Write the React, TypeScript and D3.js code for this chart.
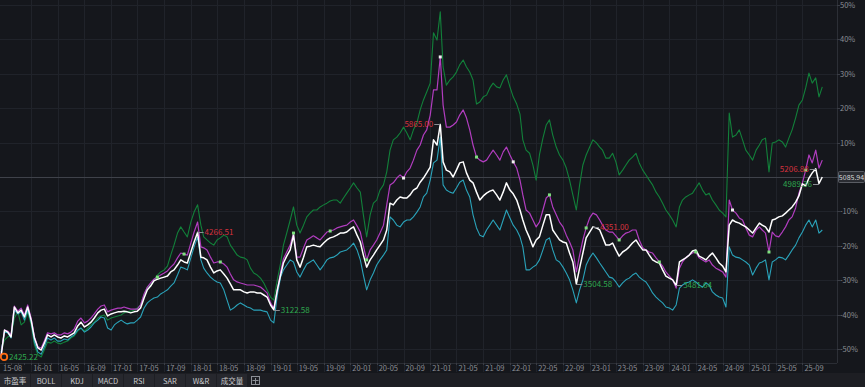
import { useEffect, useRef } from "react"
import * as d3 from "d3"

// last close of the main index, the 0% line
const BASE = 5085.94

// % change vs BASE, one value on the 1st and the 16th of each month, from 2015-08-16
const mainIdx = [
  -52.3, -44.5, -45.1, -46.5, -37.8, -39.5, -38.7, -40.7, -37.8, -41.6,
  -46.8, -49.7, -50.3, -48.3, -45.9, -46.5, -45.9, -46.5, -46.8, -46.2,
  -46.5, -45.9, -45.3, -43.3, -42.2, -43.6, -43.0, -42.2, -41.0, -39.5,
  -38.7, -38.4, -40.4, -39.8, -39.5, -39.2, -39.2, -39.0, -39.2, -39.5,
  -39.2, -39.0, -38.1, -35.2, -32.8, -31.7, -30.2, -29.7, -29.4, -29.1,
  -28.8, -27.6, -27.0, -25.6, -24.1, -24.7, -25.0, -21.8, -18.9, -16.1,
  -23.3, -23.5, -24.1, -26.2, -27.9, -27.3, -27.0, -28.2, -29.4, -31.1,
  -32.8, -32.8, -32.8, -33.4, -33.7, -33.4, -33.4, -33.7, -33.7, -34.3,
  -34.9, -37.2, -38.6, -32.8, -28.5, -25.0, -23.0, -21.2, -16.9, -24.1,
  -26.2, -23.3, -20.3, -20.1, -19.8, -20.1, -20.3, -19.2, -18.3, -17.7,
  -17.4, -16.9, -16.3, -16.3, -16.0, -15.1, -14.5, -16.9, -18.9, -22.7,
  -26.2, -24.1, -22.7, -21.2, -19.8, -18.3, -15.4, -7.6, -8.1, -6.7,
  -5.8, -6.1, -6.1, -5.2, -3.8, -3.2, -1.5, -0.3, 1.2, 2.9,
  10.8, 9.3, 15.3, 4.4, 2.0, 1.5, 0, 2.0, 4.1, 4.4,
  1.2, -0.9, -1.7, -4.4, -6.7, -5.5, -4.7, -4.1, -3.8, -5.2,
  -6.7, -4.4, -1.7, -3.8, -4.9, -6.7, -9.6, -12.5, -15.4, -17.7,
  -20.3, -18.3, -17.4, -14.0, -11.0, -11.0, -15.4, -16.9, -18.3, -18.9,
  -19.2, -22.1, -24.7, -31.1, -26.5, -22.1, -17.7, -16.0, -14.5, -14.8,
  -15.4, -17.4, -19.8, -19.8, -19.2, -21.2, -23.0, -21.8, -21.2, -20.3,
  -19.2, -18.3, -19.8, -21.2, -21.2, -22.7, -24.1, -24.7, -25.0, -27.0,
  -28.8, -29.4, -29.9, -31.5, -24.7, -24.1, -23.5, -22.7, -21.5, -21.2,
  -23.0, -23.5, -24.1, -23.0, -22.1, -23.5, -25.0, -25.9, -27.6, -14.0,
  -12.5, -13.1, -13.4, -14.0, -14.5, -15.4, -16.3, -14.8, -13.4, -14.0,
  -14.5, -16.0, -12.5, -12.2, -11.6, -11.3, -10.5, -9.6, -8.7, -7.3,
  -5.5, -2.0, -2.6, -0.3, 1.2, 2.4, -1.9, 0,
]

const cmpPurple = [
  -51.7, -44.5, -44.8, -45.9, -37.5, -39.0, -38.1, -40.1, -37.2, -41.0,
  -46.5, -49.4, -49.7, -47.7, -45.3, -45.6, -45.3, -45.9, -45.9, -45.3,
  -45.6, -45.1, -44.2, -41.9, -41.0, -42.4, -41.9, -41.0, -39.8, -38.4,
  -37.5, -37.2, -39.2, -38.7, -38.4, -38.1, -38.1, -37.8, -38.1, -38.4,
  -38.4, -38.4, -37.2, -34.0, -32.0, -30.8, -29.7, -29.1, -28.5, -27.9,
  -27.3, -26.2, -25.3, -23.5, -22.1, -22.4, -22.7, -19.2, -16.0, -13.1,
  -20.3, -20.6, -21.2, -23.3, -25.0, -24.7, -24.7, -25.3, -26.2, -28.2,
  -29.9, -30.5, -30.8, -31.1, -31.4, -31.4, -31.4, -31.7, -32.0, -32.8,
  -33.7, -36.6, -38.1, -32.8, -27.6, -23.8, -21.8, -19.8, -16.3, -23.3,
  -23.3, -20.6, -18.3, -17.7, -17.1, -17.7, -18.3, -17.1, -16.0, -15.7,
  -15.4, -14.8, -14.5, -14.2, -14.0, -13.1, -12.5, -14.2, -16.0, -20.1,
  -24.1, -21.2, -19.8, -18.3, -16.3, -14.0, -8.1, -2.3, -1.7, -0.3,
  0.6, -0.3, 1.5, 2.6, 4.9, 7.8, 9.3, 12.2, 13.7, 18.0,
  25.3, 25.3, 34.9, 20.9, 14.5, 14.5, 15.1, 16.0, 18.0, 19.5,
  17.2, 13.7, 9.3, 5.8, 4.9, 4.4, 4.9, 6.4, 7.8, 6.4,
  4.9, 7.3, 8.7, 6.4, 4.4, 2.6, -0.9, -5.2, -9.6, -10.5,
  -12.5, -14.5, -13.1, -9.6, -6.1, -5.2, -8.7, -11.0, -13.1, -14.5,
  -16.9, -18.9, -21.2, -27.6, -22.7, -18.3, -14.8, -11.9, -10.5, -11.0,
  -12.5, -14.0, -15.4, -16.0, -16.0, -17.1, -18.3, -17.1, -16.3, -16.0,
  -15.4, -15.4, -18.3, -20.6, -21.2, -21.8, -22.1, -23.5, -24.7, -25.9,
  -27.6, -28.8, -29.9, -32.3, -26.5, -24.7, -23.5, -22.7, -22.1, -21.8,
  -23.5, -24.1, -24.7, -24.1, -25.6, -26.5, -27.0, -27.6, -29.1, -6.7,
  -9.6, -10.5, -11.9, -12.5, -14.8, -16.9, -17.4, -15.4, -14.5, -15.4,
  -16.3, -21.8, -16.0, -17.1, -17.4, -16.0, -14.5, -12.5, -11.6, -9.0,
  -4.7, -1.7, 2.0, 6.4, 4.1, 7.8, 2.6, 4.9,
]

const cmpGreen = [
  -50.3, -47.4, -46.5, -45.9, -41.0, -39.2, -43.0, -42.2, -39.2, -43.0,
  -48.8, -51.7, -52.3, -50.3, -48.0, -48.3, -47.7, -48.3, -48.5, -48.0,
  -47.7, -46.8, -46.2, -44.8, -43.9, -44.8, -43.9, -43.0, -42.2, -41.0,
  -40.4, -40.1, -41.6, -41.0, -40.7, -40.4, -40.1, -39.5, -39.2, -39.0,
  -38.7, -38.1, -37.2, -34.3, -32.0, -31.4, -29.9, -28.5, -27.6, -27.0,
  -25.9, -22.7, -19.8, -16.3, -14.5, -16.0, -17.4, -13.1, -10.2, -8.1,
  -14.0, -17.4, -18.3, -19.2, -19.8, -18.3, -17.7, -16.9, -17.4, -19.8,
  -21.2, -22.7, -23.3, -23.5, -24.1, -26.5, -27.9, -28.5, -29.4, -30.8,
  -32.8, -34.9, -35.8, -29.9, -25.0, -19.8, -16.3, -12.5, -8.7, -14.0,
  -16.3, -14.0, -11.6, -10.5, -9.6, -9.6, -8.7, -8.1, -7.6, -7.0,
  -6.7, -6.7, -7.6, -6.1, -4.7, -3.2, -1.7, -3.2, -4.4, -11.0,
  -17.4, -11.0, -7.6, -6.7, -3.8, -2.3, 1.5, 7.8, 10.8, 11.6,
  12.8, 14.5, 12.8, 10.8, 13.7, 15.7, 19.5, 22.4, 24.7, 27.3,
  41.9, 39.8, 48.0, 32.0, 26.7, 28.2, 29.1, 30.5, 32.6, 34.0,
  32.0, 30.5, 28.2, 21.2, 21.8, 23.3, 23.8, 25.9, 27.3, 26.2,
  25.9, 28.2, 29.7, 26.2, 23.3, 21.2, 18.3, 10.8, 7.8, 6.9,
  3.5, -0.9, 6.4, 11.3, 15.1, 16.6, 12.2, 8.7, 6.4, 4.9,
  2.6, -0.9, -5.2, -9.6, -2.3, 3.5, 6.4, 8.7, 10.8, 9.9,
  8.7, 7.8, 5.5, 5.5, 6.9, 4.4, 0.6, 2.0, 3.5, 4.9,
  5.8, 6.9, 4.1, 2.0, 0.6, -0.9, -2.3, -4.4, -5.8, -7.6,
  -9.6, -11.0, -12.5, -14.5, -8.7, -6.7, -5.8, -5.2, -4.7, -3.2,
  -1.7, -3.8, -5.2, -4.7, -6.7, -8.1, -9.6, -10.5, -11.6, 18.6,
  11.6, 12.2, 13.7, 10.8, 7.8, 6.4, 4.9, 7.8, 9.3, 10.8,
  11.3, 1.5, 9.9, 10.2, 10.8, 10.2, 8.7, 11.3, 13.7, 17.2,
  20.9, 22.4, 25.9, 30.2, 27.3, 28.8, 23.3, 26.2,
]

const cmpCyan = [
  -50.9, -45.1, -45.3, -46.8, -38.7, -39.8, -39.2, -41.6, -38.7, -42.2,
  -48.0, -50.9, -51.5, -49.4, -46.8, -47.4, -46.8, -47.7, -47.7, -47.1,
  -47.4, -46.5, -45.9, -44.5, -43.9, -45.1, -44.5, -43.6, -42.4, -41.6,
  -40.7, -41.0, -43.9, -44.5, -43.0, -42.2, -41.6, -42.2, -42.7, -42.4,
  -42.4, -41.6, -40.7, -38.1, -36.6, -35.8, -35.2, -34.9, -34.0, -33.4,
  -32.8, -31.7, -30.8, -28.5, -26.2, -26.5, -27.0, -23.5, -20.3, -17.4,
  -24.1, -26.5, -27.9, -29.1, -29.9, -30.5, -30.8, -32.8, -35.8, -38.7,
  -38.1, -37.2, -36.6, -37.2, -37.8, -38.1, -38.7, -38.7, -38.7, -39.0,
  -39.2, -41.6, -42.4, -34.3, -29.1, -27.0, -25.6, -24.1, -24.7, -27.6,
  -29.1, -27.0, -25.3, -24.7, -24.1, -25.6, -27.0, -25.6, -24.1, -23.5,
  -23.3, -22.7, -21.8, -21.5, -21.2, -20.3, -19.2, -21.2, -24.1, -28.5,
  -32.8, -29.9, -27.9, -25.6, -24.1, -22.7, -21.2, -11.6, -12.5, -14.0,
  -14.5, -13.1, -12.5, -12.5, -11.6, -10.2, -8.7, -5.8, -4.7, -0.9,
  4.1, 4.9, 11.6, -2.3, -3.8, -4.4, -4.7, -3.2, -1.5, -0.9,
  -3.8, -5.8, -11.0, -14.8, -16.9, -17.4, -15.4, -14.0, -12.5, -14.0,
  -15.4, -12.5, -9.6, -11.9, -14.0, -15.4, -17.4, -20.3, -27.0, -27.0,
  -26.2, -25.6, -24.1, -21.2, -18.3, -17.7, -21.2, -24.1, -24.7, -26.2,
  -27.9, -29.9, -32.8, -36.6, -32.8, -29.9, -25.6, -23.5, -22.1, -23.5,
  -25.0, -26.2, -27.6, -29.1, -29.4, -30.5, -32.0, -30.8, -29.9, -29.4,
  -28.5, -27.9, -29.1, -29.9, -30.5, -32.0, -33.7, -34.9, -35.8, -36.6,
  -37.8, -38.1, -38.7, -37.2, -32.3, -31.4, -30.8, -30.5, -29.9, -30.5,
  -31.4, -32.0, -30.8, -31.4, -33.4, -34.3, -34.9, -35.2, -37.8, -20.3,
  -22.7, -23.3, -23.5, -24.1, -24.7, -25.6, -28.5, -26.5, -25.0, -24.7,
  -24.1, -29.9, -24.7, -24.1, -23.3, -23.5, -24.1, -22.7, -21.2, -19.8,
  -17.7, -16.0, -14.0, -12.5, -14.5, -12.5, -16.3, -15.4,
]

const yTicks = [50, 40, 30, 20, 10, 0, -10, -20, -30, -40, -50]
const tabs = ["市盈率", "BOLL", "KDJ", "MACD", "RSI", "SAR", "W&R", "成交量"]

// labelled highs / lows of the main index (index into the date grid)
const extremes = [
  { i: 0, text: "2425.22", hi: false, side: "right" },
  { i: 59, text: "4266.51", hi: true, side: "right" },
  { i: 82, text: "3122.58", hi: false, side: "right" },
  { i: 132, text: "5865.00", hi: true, side: "left" },
  { i: 173, text: "3504.58", hi: false, side: "right" },
  { i: 178, text: "4351.00", hi: true, side: "right" },
  { i: 203, text: "3481.64", hi: false, side: "right" },
  { i: 245, text: "5206.88", hi: true, side: "left" },
  { i: 246, text: "4989.36", hi: false, side: "left" },
]

// small event squares sitting on the purple line
const markerIdx = [47, 55, 66, 88, 99, 110, 121, 132, 143, 154, 165, 176, 186, 198, 209, 220, 231, 242]
const whiteMarkers = [121, 132, 154, 220]

export default function App() {
  const svgRef = useRef<SVGSVGElement>(null)
  const W = 865, H = 387

  useEffect(() => {
    const svg = d3.select(svgRef.current)
    svg.selectAll("*").remove()

    const font = "'Noto Sans CJK SC', 'Noto Sans', sans-serif"
    const plotR = 837, plotB = 363

    const dates = mainIdx.map((_, i) => new Date(2015, 7 + Math.ceil(i / 2), i % 2 === 0 ? 16 : 1))

    const x = d3.scaleTime()
      .domain([new Date(2015, 7, 1), new Date(2025, 8, 1)])
      .range([-2.25, 802.4])
    const y = d3.scaleLinear().domain([-50, 50]).range([349, 5])

    svg.append("rect").attr("width", W).attr("height", H).attr("fill", "#15171c")
    svg.append("rect").attr("y", 373).attr("width", W).attr("height", H - 373).attr("fill", "#1d1e23")

    // grid
    const xTicks = [dates[0], ...d3.timeMonth.every(4)!.range(new Date(2016, 0, 1), new Date(2025, 9, 1))]
    svg.append("g").selectAll("line").data(yTicks).join("line")
      .attr("x1", 0).attr("x2", plotR)
      .attr("y1", d => Math.round(y(d)) + 0.5).attr("y2", d => Math.round(y(d)) + 0.5)
      .attr("stroke", "#20232a")
    svg.append("g").selectAll("line").data(xTicks.slice(1)).join("line")
      .attr("x1", d => Math.round(x(d)) + 0.5).attr("x2", d => Math.round(x(d)) + 0.5)
      .attr("y1", 0).attr("y2", 372)
      .attr("stroke", "#20232a")

    // zero line
    svg.append("line")
      .attr("x1", 0).attr("x2", plotR + 4)
      .attr("y1", Math.round(y(0)) + 0.5).attr("y2", Math.round(y(0)) + 0.5)
      .attr("stroke", "#3f424a")

    // axes frame
    svg.append("line").attr("x1", plotR + 0.5).attr("x2", plotR + 0.5).attr("y1", 0).attr("y2", plotB)
      .attr("stroke", "#2c2f36")
    svg.append("line").attr("x1", 0).attr("x2", plotR).attr("y1", plotB + 0.5).attr("y2", plotB + 0.5)
      .attr("stroke", "#2a2d34")
    svg.append("g").selectAll("line").data(d3.timeMonth.range(new Date(2015, 8, 1), new Date(2025, 11, 1))).join("line")
      .attr("x1", d => Math.round(x(d)) + 0.5).attr("x2", d => Math.round(x(d)) + 0.5)
      .attr("y1", plotB).attr("y2", plotB + 2)
      .attr("stroke", "#3a3d45")

    svg.append("defs").append("clipPath").attr("id", "plotclip")
      .append("rect").attr("width", plotR).attr("height", plotB)

    const plot = svg.append("g").attr("clip-path", "url(#plotclip)")

    const series = [
      { values: cmpGreen, color: "#12803a", width: 1.1 },
      { values: cmpCyan, color: "#2aa3ba", width: 1.1 },
      { values: cmpPurple, color: "#b13dbf", width: 1.2 },
      { values: mainIdx, color: "#ffffff", width: 1.5 },
    ]
    const line = d3.line<number>()
      .x((_, i) => x(dates[i]))
      .y(d => y(d))
    plot.selectAll("path.series").data(series).join("path")
      .attr("class", "series")
      .attr("d", d => line(d.values))
      .attr("fill", "none")
      .attr("stroke", d => d.color)
      .attr("stroke-width", d => d.width)
      .attr("stroke-linejoin", "round")

    plot.selectAll("rect.mk").data(markerIdx).join("rect")
      .attr("class", "mk")
      .attr("x", i => x(dates[i]) - 1.5).attr("y", i => y(cmpPurple[i]) - 1.5)
      .attr("width", 3).attr("height", 3)
      .attr("fill", i => whiteMarkers.includes(i) ? "#f2f2f2" : "#7ee07e")

    // high / low labels
    const ex = plot.append("g")
    extremes.forEach(e => {
      const px = x(dates[e.i]), py = y(mainIdx[e.i])
      const dir = e.side === "right" ? 1 : -1
      if (e.i === 0) {
        ex.append("circle").attr("cx", px + 3).attr("cy", py).attr("r", 3.2)
          .attr("fill", "#15171c").attr("stroke", "#ff6a13").attr("stroke-width", 1.8)
        ex.append("text").attr("x", px + 8).attr("y", py + 3)
          .attr("fill", "#2fa84f").attr("font-size", 8).attr("font-family", font).text(e.text)
        return
      }
      ex.append("line").attr("x1", px).attr("x2", px + dir * 6)
        .attr("y1", Math.round(py) + 0.5).attr("y2", Math.round(py) + 0.5)
        .attr("stroke", "#8a8d93")
      ex.append("text").attr("x", px + dir * 7).attr("y", py + 3)
        .attr("text-anchor", dir > 0 ? "start" : "end")
        .attr("fill", e.hi ? "#d6323e" : "#2fa84f")
        .attr("font-size", 8).attr("font-family", font)
        .text(e.text)
    })

    // right axis
    svg.append("g").selectAll("text").data(yTicks.filter(d => d !== 0)).join("text")
      .attr("x", 840).attr("y", d => y(d) + 3)
      .attr("fill", "#8b8e95").attr("font-size", 7.5).attr("font-family", font)
      .text(d => `${d}%`)
    svg.append("g").selectAll("line").data(yTicks).join("line")
      .attr("x1", plotR).attr("x2", plotR + 3)
      .attr("y1", d => Math.round(y(d)) + 0.5).attr("y2", d => Math.round(y(d)) + 0.5)
      .attr("stroke", "#3a3d45")

    // last value box
    svg.append("rect").attr("x", 838.5).attr("y", y(0) - 5.5).attr("width", 26).attr("height", 11)
      .attr("fill", "#2a2c32").attr("stroke", "#5a5d64").attr("rx", 1)
    svg.append("text").attr("x", 851.5).attr("y", y(0) + 3)
      .attr("text-anchor", "middle").attr("fill", "#d8d8d8")
      .attr("font-size", 7).attr("font-family", font)
      .text(BASE.toFixed(2))

    // bottom axis labels
    const fmt = d3.timeFormat("%y-%m")
    svg.append("g").selectAll("text").data(xTicks).join("text")
      .attr("x", d => x(d) + 2).attr("y", 371)
      .attr("fill", "#8b8e95").attr("font-size", 7.5).attr("font-family", font)
      .text(d => fmt(d))

    // indicator tabs
    const tabW = 30
    const tg = svg.append("g")
    tabs.forEach((t, i) => {
      tg.append("rect").attr("x", i * (tabW + 1)).attr("y", 374).attr("width", tabW).attr("height", 13)
        .attr("fill", "#27282e")
      tg.append("text").attr("x", i * (tabW + 1) + tabW / 2).attr("y", 383.5)
        .attr("text-anchor", "middle")
        .attr("fill", "#c9cacd").attr("font-size", 7.5).attr("font-family", font)
        .text(t)
    })
    const ix = tabs.length * (tabW + 1) + 3
    tg.append("rect").attr("x", ix + 0.5).attr("y", 376.5).attr("width", 8).attr("height", 8)
      .attr("fill", "none").attr("stroke", "#8b8e95")
    tg.append("line").attr("x1", ix + 4.5).attr("x2", ix + 4.5).attr("y1", 378).attr("y2", 384)
      .attr("stroke", "#8b8e95")
    tg.append("line").attr("x1", ix + 1.5).attr("x2", ix + 7.5).attr("y1", 380.5).attr("y2", 380.5)
      .attr("stroke", "#8b8e95")
  }, [])

  return (
    <div style={{ position: "absolute", left: 0, top: 0 }}>
      <svg ref={svgRef} width={W} height={H} style={{ display: "block" }}></svg>
    </div>
  )
}
